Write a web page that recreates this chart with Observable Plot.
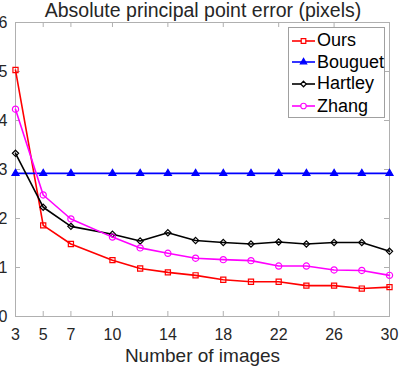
<!DOCTYPE html>
<html><head><meta charset="utf-8">
<script src="https://cdn.jsdelivr.net/npm/d3@7"></script>
<script src="https://cdn.jsdelivr.net/npm/@observablehq/plot@0.6"></script>
<style>
body{margin:0;background:#fff;font-family:Arial,"Liberation Sans",sans-serif;}
#wrap{position:relative;width:399px;height:369px;}
#title{position:absolute;left:0;top:0;width:406px;text-align:center;font-size:19.5px;line-height:20px;color:#262626;}
#chart{position:absolute;left:0;top:20px;}
#legend{position:absolute;left:288px;top:27px;width:97px;height:91px;border:1px solid #a0a0a0;background:#fff;box-sizing:border-box;}
.item{position:absolute;left:0;height:20px;display:flex;align-items:center;font-size:18px;color:#000;white-space:nowrap;}
.item svg{margin-left:3px;margin-right:2px;}
</style></head>
<body><div id="wrap"><div id="chart"></div><div id="title">Absolute principal point error (pixels)</div><div id="legend"></div></div>
<script>
const xValues = [3,5,7,10,12,14,16,18,20,22,24,26,28,30];
const ours    = [5.03,1.86,1.48,1.15,0.98,0.90,0.84,0.75,0.71,0.71,0.63,0.63,0.57,0.60];
const bouguet = [2.92,2.92,2.92,2.92,2.92,2.92,2.92,2.92,2.92,2.92,2.92,2.92,2.92,2.92];
const hartley = [3.33,2.23,1.84,1.68,1.54,1.71,1.55,1.51,1.48,1.52,1.48,1.51,1.51,1.33];
const zhang   = [4.23,2.48,1.99,1.62,1.40,1.29,1.19,1.16,1.14,1.03,1.03,0.95,0.94,0.84];
const seriesNames = ["Ours","Bouguet","Hartley","Zhang"];
const colors = ["#ff0000","#0000ff","#000000","#ff00ff"];
const symbols = ["square","triangle","diamond2","circle"];
const xTicks = [3,5,7,10,14,18,22,26,30];
const yTicks = [0,1,2,3,4,5,6];

const allSeries = [ours,bouguet,hartley,zhang];
const data = [];
allSeries.forEach((vals,i)=>vals.forEach((v,j)=>data.push({series:seriesNames[i],x:xValues[j],y:v})));

const W=399,H=349,mL=15,mR=10,mT=2,mB=53;
const radii = {square:2.9, triangle:2.6, diamond2:2.8, circle:3.1};
const marks = [
  Plot.frame({stroke:"#b0b0b0"}),
  Plot.tickX(xTicks,{x:d=>d,stroke:"#b0b0b0",insetTop:H-mT-mB-5}),
  Plot.tickX(xTicks,{x:d=>d,stroke:"#b0b0b0",insetBottom:H-mT-mB-5}),
  Plot.tickY(yTicks,{y:d=>d,stroke:"#b0b0b0",insetRight:W-mL-mR-5}),
  Plot.tickY(yTicks,{y:d=>d,stroke:"#b0b0b0",insetLeft:W-mL-mR-5}),
  Plot.axisX(xTicks,{tickSize:0,tickPadding:12,fontSize:16,fill:"#262626",label:null}),
  Plot.axisY(yTicks,{tickSize:0,tickPadding:8,fontSize:16,fill:"#262626",label:null}),
  Plot.text(["Number of images"],{frameAnchor:"bottom",dy:45,fontSize:19,fill:"#262626"})
];
seriesNames.forEach((s,i)=>{
  const d = data.filter(r=>r.series===s);
  marks.push(Plot.line(d,{x:"x",y:"y",stroke:colors[i],strokeWidth:1.6}));
  marks.push(Plot.dot(d,{x:"x",y:"y",symbol:()=>symbols[i],r:radii[symbols[i]],stroke:colors[i],strokeWidth:1.2,fill:s==="Bouguet"?colors[i]:"none"}));
});
const chart = Plot.plot({
  width:W,height:H,marginLeft:mL,marginRight:mR,marginTop:mT,marginBottom:mB,
  style:{fontFamily:'Arial,"Liberation Sans",sans-serif',background:"transparent",overflow:"visible"},
  x:{domain:[3,30]},y:{domain:[0,6]},
  symbol:{type:"identity"},
  marks
});
document.getElementById("chart").appendChild(chart);

const leg = document.getElementById("legend");
const centers=[12.5,34,55.5,78];
const d3sym = {square:d3.symbolSquare,triangle:d3.symbolTriangle,diamond2:d3.symbolDiamond2,circle:d3.symbolCircle};
seriesNames.forEach((s,i)=>{
  const it=document.createElement("div");
  it.className="item";
  it.style.top=(centers[i]-10)+"px";
  const r=radii[symbols[i]];
  const sym=d3.symbol(d3sym[symbols[i]], Math.PI*r*r*0.8)();
  it.innerHTML=`<svg width="23" height="20"><line x1="0" x2="23" y1="10" y2="10" stroke="${colors[i]}" stroke-width="1.6"/><path transform="translate(11.5,10)" d="${sym}" stroke="${colors[i]}" stroke-width="1.2" fill="${s==='Bouguet'?colors[i]:'#fff'}"/></svg><span>${s}</span>`;
  leg.appendChild(it);
});
</script></body></html>
